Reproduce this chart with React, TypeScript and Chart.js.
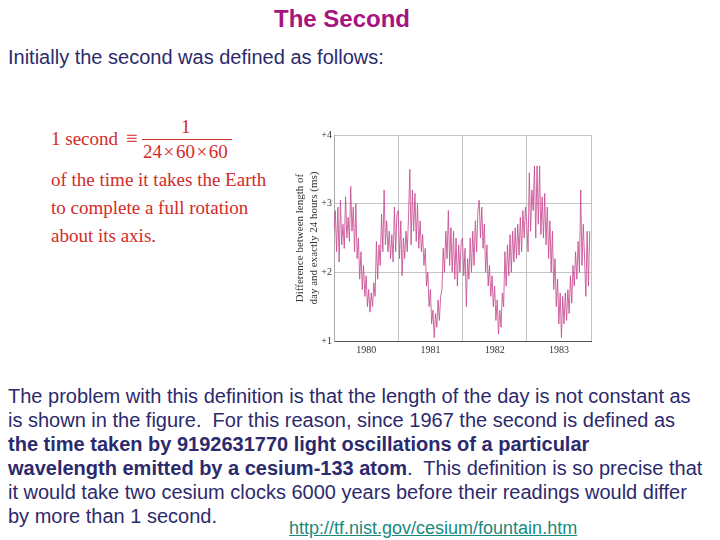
import React, { useEffect, useRef } from "react";
import { Chart, registerables } from "chart.js";
Chart.register(...registerables);

const startYear = 1980;
const sampleStep = 0.02;
const lod1980 = [2.6, 2.9, 2.3, 2.95, 2.15, 3.05, 2.4, 2.7, 2.35, 3.1, 2.5, 2.8, 2.45, 3.25, 2.6, 2.95, 2.3, 3.0, 2.2, 2.5, 1.9, 2.3, 1.75, 2.1, 1.65, 1.95, 1.5, 1.75, 1.42, 1.7, 1.5, 1.85, 1.65, 2.45, 1.9, 2.4, 2.1, 2.85, 2.3, 3.2, 2.4, 2.75, 2.3, 2.6, 2.2, 2.55, 2.15, 2.95, 2.3, 2.85];
const lod1981 = [2.9, 2.2, 2.75, 1.95, 2.5, 2.2, 2.6, 2.3, 2.8, 3.5, 2.4, 3.2, 2.6, 3.15, 2.45, 3.0, 2.35, 2.75, 2.3, 2.55, 2.1, 2.35, 1.8, 2.0, 1.5, 1.75, 1.25, 1.45, 1.05, 1.4, 1.2, 1.6, 1.3, 1.65, 1.75, 2.35, 2.0, 2.6, 2.2, 2.9, 2.1, 2.65, 2.0, 2.6, 1.9, 2.5, 1.8, 2.4, 2.0, 2.45];
const lod1982 = [2.5, 1.95, 2.35, 1.5, 2.2, 1.9, 2.5, 2.0, 2.6, 2.1, 2.75, 2.3, 2.9, 3.05, 2.5, 2.95, 2.35, 2.7, 2.0, 2.4, 1.8, 2.1, 1.65, 1.95, 1.5, 1.8, 1.3, 1.6, 1.1, 1.45, 1.2, 1.7, 1.5, 2.3, 1.8, 2.4, 1.95, 2.55, 2.0, 2.6, 2.15, 2.65, 2.2, 2.7, 2.25, 2.8, 2.3, 2.9, 2.5, 2.95];
const lod1983 = [2.7, 2.3, 3.45, 2.6, 3.2, 2.9, 3.55, 2.5, 3.55, 2.7, 3.55, 2.55, 3.1, 2.5, 3.15, 2.4, 2.95, 2.2, 2.75, 2.0, 2.6, 1.75, 2.2, 1.5, 1.9, 1.25, 1.7, 1.05, 1.65, 1.25, 1.7, 1.3, 1.75, 1.4, 1.95, 1.55, 2.1, 1.8, 2.3, 1.9, 2.45, 2.0, 3.2, 2.1, 2.7, 2.2, 1.65, 2.6, 1.8, 2.6];
const yearLabels = ["1980", "1981", "1982", "1983"];
const yTickValues = [1, 2, 3, 4];
const yTitle = ["Difference between length of", "day and exactly 24 hours (ms)"];

const RED = "#d42a2a";
const NAVY = "#2c2a6c";

function LodChart() {
  const ref = useRef<HTMLCanvasElement | null>(null);
  useEffect(() => {
    if (!ref.current) return;
    const values = [...lod1980, ...lod1981, ...lod1982, ...lod1983];
    const points = values.map((v, i) => ({ x: startYear + i * sampleStep, y: v }));
    const firstYear = Number(yearLabels[0]);
    const lastYear = Number(yearLabels[yearLabels.length - 1]) + 1;
    const xTickVals: number[] = [];
    yearLabels.forEach((y) => {
      xTickVals.push(Number(y), Number(y) + 0.5);
    });
    xTickVals.push(lastYear);
    const chart = new Chart(ref.current, {
      type: "line",
      data: {
        datasets: [
          {
            data: points,
            borderColor: "rgba(200,78,146,0.85)",
            borderWidth: 1,
            pointRadius: 0,
            tension: 0,
          },
        ],
      },
      options: {
        animation: false,
        responsive: false,
        layout: { padding: { top: 10, right: 5, left: 0, bottom: 0 } },
        plugins: { legend: { display: false }, tooltip: { enabled: false } },
        scales: {
          x: {
            type: "linear",
            min: firstYear,
            max: lastYear,
            afterBuildTicks: (axis: any) => {
              axis.ticks = xTickVals.map((value) => ({ value }));
            },
            afterFit: (scale: any) => {
              scale.height = 19;
            },
            border: { display: true, color: "#555", width: 1 },
            grid: {
              drawTicks: false,
              color: (ctx: any) => {
                const v = ctx.tick ? ctx.tick.value : 0;
                return Number.isInteger(v) && v !== firstYear ? "#c4c4c4" : "rgba(0,0,0,0)";
              },
            },
            ticks: {
              padding: 3,
              maxRotation: 0,
              autoSkip: false,
              color: "#333",
              font: { family: "'Liberation Serif', serif", size: 10 },
              callback: (value: any) => {
                const v = Number(value);
                const f = v - Math.floor(v);
                return Math.abs(f - 0.5) < 1e-6 ? String(Math.floor(v)) : "";
              },
            },
          },
          y: {
            min: yTickValues[0],
            max: yTickValues[yTickValues.length - 1],
            afterBuildTicks: (axis: any) => {
              axis.ticks = yTickValues.map((value) => ({ value }));
            },
            afterFit: (scale: any) => {
              scale.width = 44;
            },
            border: { display: true, color: "#aaa", width: 1 },
            grid: {
              drawTicks: false,
              color: (ctx: any) => (ctx.tick && ctx.tick.value === yTickValues[0] ? "rgba(0,0,0,0)" : "#c4c4c4"),
            },
            ticks: {
              padding: 2,
              color: "#333",
              font: { family: "'Liberation Serif', serif", size: 10 },
              callback: (value: any) => "+" + value,
            },
            title: {
              display: true,
              text: yTitle,
              color: "#333",
              padding: { top: 4, bottom: 0 },
              font: { family: "'Liberation Serif', serif", size: 11, lineHeight: 1.2 },
            },
          },
        },
      },
    });
    return () => chart.destroy();
  }, []);
  return (
    <canvas
      ref={ref}
      width={306}
      height={235}
      style={{ position: "absolute", left: 290, top: 125, width: 306, height: 235 }}
    />
  );
}

const abs = (left: number, top: number, extra: React.CSSProperties = {}): React.CSSProperties => ({
  position: "absolute",
  left,
  top,
  whiteSpace: "pre",
  lineHeight: 1,
  ...extra,
});

export default function App() {
  const sans = "'Liberation Sans', Arial, sans-serif";
  const serif = "'Liberation Serif', 'Times New Roman', serif";
  const body: React.CSSProperties = { fontFamily: sans, fontSize: 20, color: NAVY };
  const redText: React.CSSProperties = { fontFamily: serif, fontSize: 19, color: RED };
  return (
    <div style={{ position: "fixed", left: 0, top: 0, width: 720, height: 540, background: "#fff", overflow: "hidden" }}>
      <div style={abs(0, 7, { width: 684, textAlign: "center", fontFamily: sans, fontSize: 24, fontWeight: "bold", color: "#a8147e" })}>
        The Second
      </div>
      <div style={abs(8, 47, body)}>Initially the second was defined as follows:</div>

      <div style={abs(51, 129, redText)}>1 second</div>
      <div style={abs(126, 128, { fontFamily: serif, fontSize: 21, color: RED })}>≡</div>
      <div style={abs(181, 117, redText)}>1</div>
      <div style={{ position: "absolute", left: 142, top: 139, width: 90, height: 1, background: RED }} />
      <div style={abs(143, 142, redText)}>{"24\u200A×\u200A60\u200A×\u200A60"}</div>
      <div style={abs(51, 170, redText)}>of the time it takes the Earth</div>
      <div style={abs(51, 198, redText)}>to complete a full rotation</div>
      <div style={abs(51, 226, redText)}>about its axis.</div>

      <LodChart />

      <div style={abs(8, 386, body)}>The problem with this definition is that the length of the day is not constant as</div>
      <div style={abs(8, 410, body)}>is shown in the figure.  For this reason, since 1967 the second is defined as</div>
      <div style={abs(8, 434, { ...body, fontWeight: "bold" })}>the time taken by 9192631770 light oscillations of a particular</div>
      <div style={abs(8, 458, body)}>
        <b>wavelength emitted by a cesium-133 atom</b>.  This definition is so precise that
      </div>
      <div style={abs(8, 482, body)}>it would take two cesium clocks 6000 years before their readings would differ</div>
      <div style={abs(8, 506, body)}>by more than 1 second.</div>
      <div style={abs(289, 519, { fontFamily: sans, fontSize: 18, color: "#198a7c", textDecoration: "underline" })}>
        http://tf.nist.gov/cesium/fountain.htm
      </div>
    </div>
  );
}
